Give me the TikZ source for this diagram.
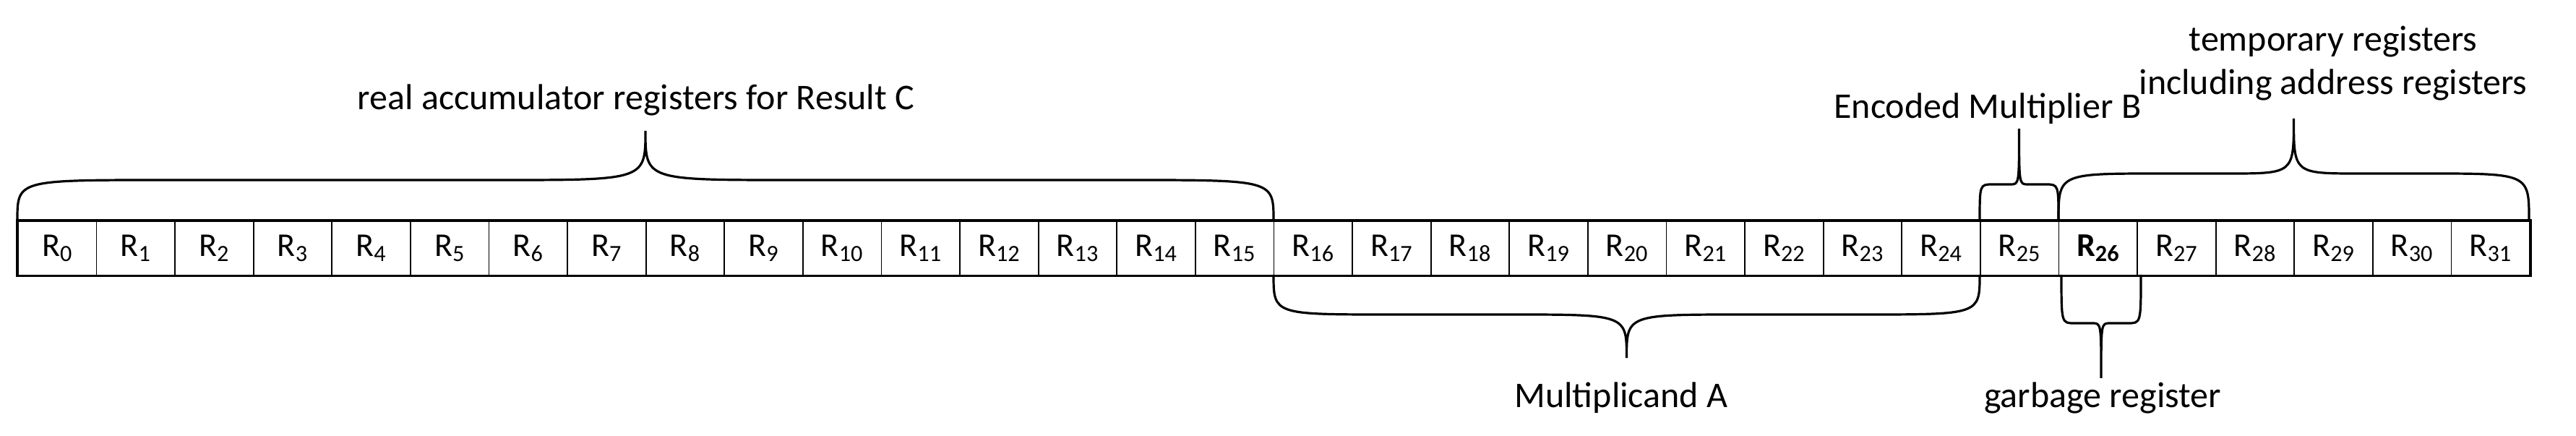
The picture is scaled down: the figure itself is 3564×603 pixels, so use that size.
\documentclass[tikz,border=0pt]{standalone}
\usepackage{fontspec}
\setmainfont{Carlito}
\newcommand\mybrace[7]{% x1 x2 y0 ym ya q1 q2
  \pgfmathsetmacro\xc{(#1+#2)/2}
  \draw[brc] (#1,#3) .. controls (#1,#4) and (#1,#4) .. ({#1+#6},#4) -- ({\xc-#7},#4)
    .. controls (\xc,#4) and (\xc,#4) .. (\xc,#5)
    .. controls (\xc,#4) and (\xc,#4) .. ({\xc+#7},#4) -- ({#2-#6},#4)
    .. controls (#2,#4) and (#2,#4) .. (#2,#3);}
\begin{document}
\begin{tikzpicture}[x=0.5pt,y=-0.5pt,
  brc/.style={line width=1.6pt},
  cell/.style={draw,line width=0.9pt,minimum width=54.3pt,minimum height=37.5pt,inner sep=0pt,anchor=north west,font=\fontsize{23}{26}\selectfont},
  lbl/.style={font=\fontsize{25}{30}\selectfont,align=center,inner sep=0pt}]
\useasboundingbox (0,0) rectangle (3564,603);
\foreach \i in {0,...,31}{
  \ifnum\i=26
    \node[cell] (r\i) at ({24+108.6*\i},305) {\textbf{R\textsubscript{\i}}};
  \else
    \node[cell] (r\i) at ({24+108.6*\i},305) {R\textsubscript{\i}};
  \fi}
\draw[line width=1.6pt] (r0.north west) rectangle (r31.south east);
\mybrace{24}{1762}{305}{249}{181}{200}{200}
\mybrace{1762}{2739}{380}{435}{495}{160}{160}
\mybrace{2739}{2848}{305}{255}{178}{18}{12}
\mybrace{2848}{3499}{305}{240}{164}{140}{90}
\mybrace{2852}{2962}{380}{447}{523}{18}{12}
\node[lbl] (tC) at (880,138) {real accumulator registers for Result C};
\node[lbl] (tB) at (2750,150) {Encoded Multiplier B};
\node[lbl] (tT) at (3228,88) {temporary registers\\including address registers};
\node[lbl] (tA) at (2243,550) {Multiplicand A};
\node[lbl] (tG) at (2909,550) {garbage register};
\end{tikzpicture}
\end{document}
